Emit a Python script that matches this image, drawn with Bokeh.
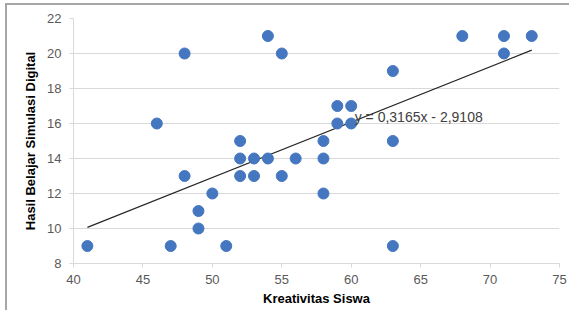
from bokeh.plotting import figure
from bokeh.models import Range1d, FixedTicker, Label
from bokeh.embed import file_html
from bokeh.resources import INLINE

kreativitas = [41, 46, 47, 48, 48, 49, 49, 50, 51, 52, 52, 52, 53, 53, 54, 54, 55, 55,
               56, 58, 58, 58, 59, 59, 60, 60, 63, 63, 63, 68, 71, 71, 73]
hasil = [9, 16, 9, 20, 13, 11, 10, 12, 9, 15, 14, 13, 14, 13, 21, 14, 20, 13,
         14, 15, 14, 12, 17, 16, 17, 16, 19, 15, 9, 21, 21, 20, 21]
slope = 0.3165
intercept = -2.9108
x_ticks = [40, 45, 50, 55, 60, 65, 70, 75]
y_ticks = [8, 10, 12, 14, 16, 18, 20, 22]
equation = "y = 0,3165x - 2,9108"

p = figure(width=564, height=307, output_backend="svg", toolbar_location=None,
           x_range=Range1d(40, 75), y_range=Range1d(8, 22),
           min_border_left=66, min_border_right=12, min_border_top=13, min_border_bottom=49,
           margin=(3, 0, 0, 5))
p.styles = {"border-top": "2px solid #a6a6a6", "border-left": "2px solid #a6a6a6"}
p.outline_line_color = None
p.background_fill_color = "white"
p.border_fill_color = "white"

p.xgrid.grid_line_color = None
p.ygrid.grid_line_color = "#d9d9d9"
p.ygrid.grid_line_width = 1

p.xaxis.ticker = FixedTicker(ticks=x_ticks)
p.yaxis.ticker = FixedTicker(ticks=y_ticks)
for ax in (p.xaxis, p.yaxis):
    ax.axis_line_color = "#d9d9d9"
    ax.major_tick_line_color = "#d9d9d9"
    ax.minor_tick_line_color = None
    ax.major_tick_in = 0
    ax.major_tick_out = 4
    ax.major_label_text_font = "Liberation Sans"
    ax.major_label_text_font_size = "13px"
    ax.major_label_text_color = "#595959"
    ax.axis_label_text_font = "Liberation Sans"
    ax.axis_label_text_font_size = "13px"
    ax.axis_label_text_font_style = "bold"
    ax.axis_label_text_color = "#000000"

p.xaxis.axis_label = "Kreativitas Siswa"
p.yaxis.axis_label = "Hasil Belajar Simulasi Digital"
p.xaxis.major_label_standoff = 7
p.yaxis.major_label_standoff = 8
p.xaxis.axis_label_standoff = 4
p.yaxis.axis_label_standoff = 6

x0, x1 = min(kreativitas), max(kreativitas)
p.line([x0, x1], [slope * x0 + intercept, slope * x1 + intercept],
       line_color="#262626", line_width=1.2)

p.scatter(kreativitas, hasil, size=11, marker="circle",
          fill_color="#4577c0", line_color="#4577c0")

p.add_layout(Label(x=60.25, y=16.35, text=equation, text_font="Liberation Sans",
                   text_font_size="14px", text_color="#404040",
                   text_baseline="middle", text_align="left"))

open("out.html", "w").write(file_html(p, INLINE))
